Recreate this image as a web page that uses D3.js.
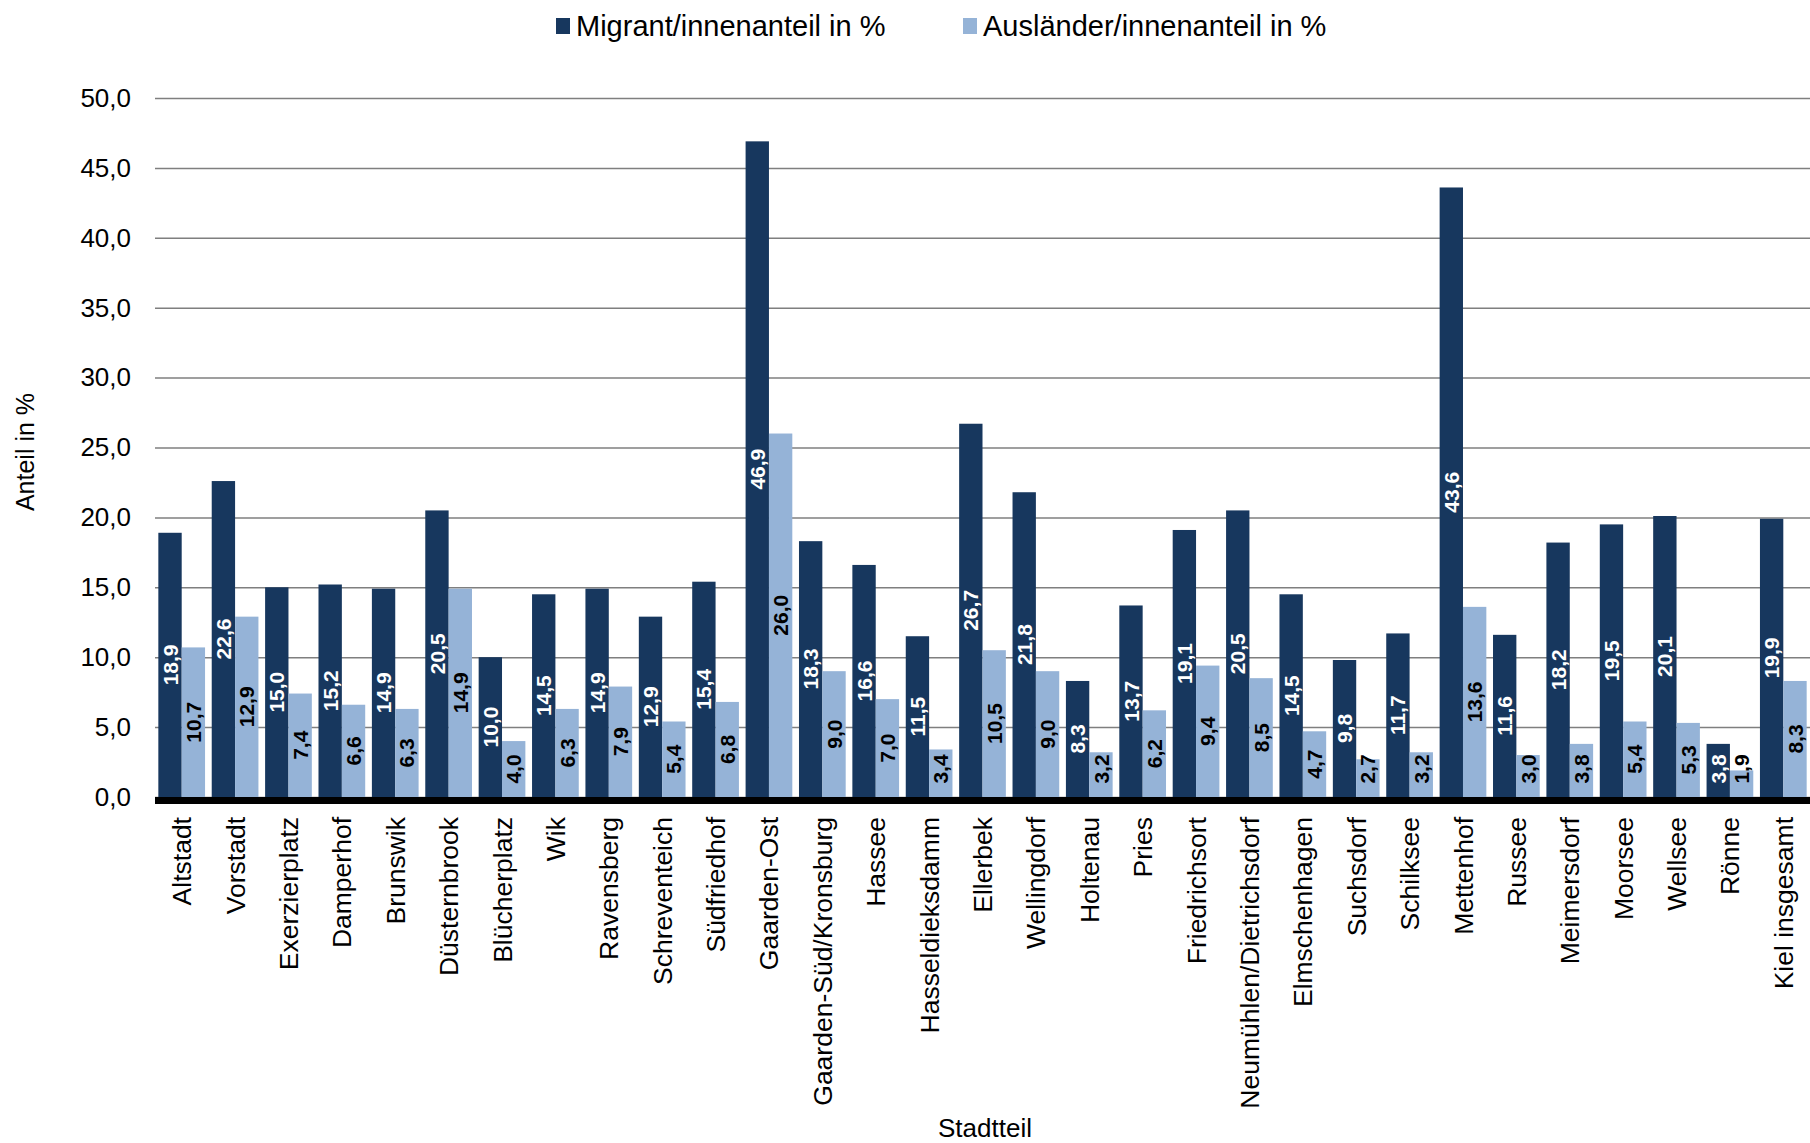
<!DOCTYPE html>
<html>
<head>
<meta charset="utf-8">
<script src="https://cdn.jsdelivr.net/npm/d3@7"></script>
<style>
  body { margin: 0; background: #fff; }
  text { font-family: "Liberation Sans", Arial, sans-serif; }
</style>
</head>
<body>
<div id="chart"></div>
<script>
var stadtteile = ["Altstadt", "Vorstadt", "Exerzierplatz", "Damperhof", "Brunswik", "Düsternbrook",
  "Blücherplatz", "Wik", "Ravensberg", "Schreventeich", "Südfriedhof", "Gaarden-Ost",
  "Gaarden-Süd/Kronsburg", "Hassee", "Hasseldieksdamm", "Ellerbek", "Wellingdorf", "Holtenau",
  "Pries", "Friedrichsort", "Neumühlen/Dietrichsdorf", "Elmschenhagen", "Suchsdorf", "Schilksee",
  "Mettenhof", "Russee", "Meimersdorf", "Moorsee", "Wellsee", "Rönne", "Kiel insgesamt"];

var migranten = [18.9, 22.6, 15.0, 15.2, 14.9, 20.5, 10.0, 14.5, 14.9, 12.9, 15.4, 46.9,
  18.3, 16.6, 11.5, 26.7, 21.8, 8.3, 13.7, 19.1, 20.5, 14.5, 9.8, 11.7,
  43.6, 11.6, 18.2, 19.5, 20.1, 3.8, 19.9];

var auslaender = [10.7, 12.9, 7.4, 6.6, 6.3, 14.9, 4.0, 6.3, 7.9, 5.4, 6.8, 26.0,
  9.0, 7.0, 3.4, 10.5, 9.0, 3.2, 6.2, 9.4, 8.5, 4.7, 2.7, 3.2,
  13.6, 3.0, 3.8, 5.4, 5.3, 1.9, 8.3];

var serien = ["Migrant/innenanteil in %", "Ausländer/innenanteil in %"];
var yTicks = [0, 5, 10, 15, 20, 25, 30, 35, 40, 45, 50];

var width = 1810, height = 1143;
var farben = ["#17375e", "#95b3d7"];
var fmt = function(v) { return v.toFixed(1).replace(".", ","); };

var svg = d3.select("#chart")
  .append("svg")
    .attr("width", width)
    .attr("height", height);

var x = d3.scaleBand()
  .domain(stadtteile)
  .range([155, 1810])
  .paddingInner(0.125)
  .paddingOuter(0.0625);

var xs = d3.scaleBand()
  .domain([0, 1])
  .range([0, x.bandwidth()]);

var y = d3.scaleLinear()
  .domain([0, 50])
  .range([797, 98]);

// gridlines + y labels
var yAxis = svg.append("g")
  .attr("transform", "translate(155,0)")
  .call(d3.axisLeft(y).tickValues(yTicks).tickSize(-(1810 - 155)).tickPadding(24).tickFormat(fmt));
yAxis.select(".domain").remove();
yAxis.selectAll(".tick line").attr("stroke", "#7f7f7f").attr("stroke-width", 1.5);
yAxis.selectAll(".tick text").attr("font-size", 26).attr("fill", "#000")
  .style("font-family", "'Liberation Sans', Arial, sans-serif");

// data rows
var rows = stadtteile.map(function(s, i) {
  return { name: s, werte: [migranten[i], auslaender[i]] };
});

var gruppen = svg.selectAll(".gruppe")
  .data(rows)
  .enter()
  .append("g")
    .attr("class", "gruppe")
    .attr("transform", function(d) { return "translate(" + x(d.name) + ",0)"; });

gruppen.selectAll("rect")
  .data(function(d) { return d.werte; })
  .enter()
  .append("rect")
    .attr("x", function(d, i) { return xs(i); })
    .attr("y", function(d) { return y(d); })
    .attr("width", xs.bandwidth())
    .attr("height", function(d) { return y(0) - y(d); })
    .attr("fill", function(d, i) { return farben[i]; });

// value labels, rotated
gruppen.selectAll(".wert")
  .data(function(d) { return d.werte; })
  .enter()
  .append("text")
    .attr("class", "wert")
    .attr("transform", function(d, i) {
      var cy = Math.min((y(d) + y(0)) / 2, y(0) - 28);
      return "translate(" + (xs(i) + xs.bandwidth() / 2) + "," + cy + ")rotate(-90)";
    })
    .attr("text-anchor", "middle")
    .attr("dy", "0.36em")
    .attr("font-size", 21)
    .attr("font-weight", "bold")
    .attr("fill", function(d, i) { return i === 0 ? "#fff" : "#000"; })
    .text(fmt);

// x axis black line
svg.append("line")
  .attr("x1", 155).attr("x2", 1810)
  .attr("y1", y(0) + 3.5).attr("y2", y(0) + 3.5)
  .attr("stroke", "#000")
  .attr("stroke-width", 7);

// category labels
var xAxis = svg.append("g")
  .attr("transform", "translate(0," + y(0) + ")")
  .call(d3.axisBottom(x).tickSize(0));
xAxis.select(".domain").remove();
xAxis.selectAll(".tick text")
  .attr("transform", "translate(0,20)rotate(-90)")
  .attr("x", 0).attr("y", 0)
  .attr("dy", "0.36em")
  .attr("text-anchor", "end")
  .attr("font-size", 26.5)
  .attr("fill", "#000")
  .style("font-family", "'Liberation Sans', Arial, sans-serif");

// axis titles
svg.append("text")
  .attr("x", 985).attr("y", 1137)
  .attr("text-anchor", "middle")
  .attr("font-size", 26)
  .text("Stadtteil");

svg.append("text")
  .attr("transform", "translate(25,452)rotate(-90)")
  .attr("text-anchor", "middle")
  .attr("dy", "0.36em")
  .attr("font-size", 25)
  .text("Anteil in %");

// legend
var legendX = [556, 963];
var legende = svg.selectAll(".legende")
  .data(serien)
  .enter()
  .append("g")
    .attr("class", "legende")
    .attr("transform", function(d, i) { return "translate(" + legendX[i] + ",0)"; });
legende.append("rect")
  .attr("x", 0).attr("y", 18)
  .attr("width", 14).attr("height", 16)
  .attr("fill", function(d, i) { return farben[i]; });
legende.append("text")
  .attr("x", 20).attr("y", 26)
  .attr("dy", "0.36em")
  .attr("font-size", 29)
  .text(function(d) { return d; });
</script>
</body>
</html>
